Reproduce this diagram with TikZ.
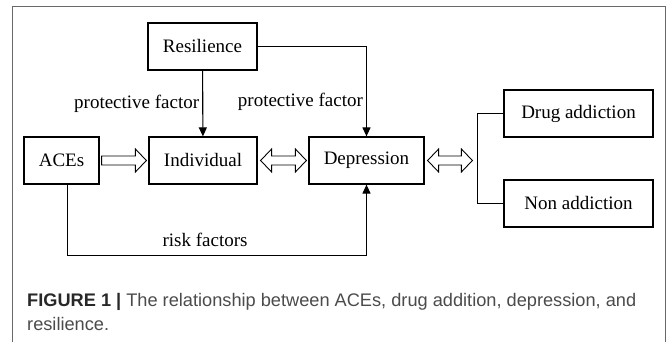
\documentclass[tikz,border=0pt]{standalone}
\usepackage{fontspec}
\setmainfont{Liberation Serif}
\newfontfamily\capfont{Liberation Sans}
\usetikzlibrary{arrows.meta,calc,positioning}
\definecolor{framegray}{RGB}{105,105,105}
\definecolor{captext}{RGB}{75,75,75}
\definecolor{capbold}{RGB}{40,40,40}

% hollow block arrows (horizontal only)
\newcommand{\hollowarrow}[2]{%
  \draw[blockarrow] let \p1=(#1), \p2=(#2) in
    (\x1,\y1-4.5pt) -- (\x2-11pt,\y1-4.5pt) -- (\x2-11pt,\y1-11.5pt) -- (\x2,\y1)
    -- (\x2-11pt,\y1+11.5pt) -- (\x2-11pt,\y1+4.5pt) -- (\x1,\y1+4.5pt) -- cycle;}
\newcommand{\hollowdarrow}[2]{%
  \draw[blockarrow] let \p1=(#1), \p2=(#2) in
    (\x1,\y1) -- (\x1+11pt,\y1+11.5pt) -- (\x1+11pt,\y1+4.5pt) -- (\x2-11pt,\y1+4.5pt)
    -- (\x2-11pt,\y1+11.5pt) -- (\x2,\y1) -- (\x2-11pt,\y1-11.5pt) -- (\x2-11pt,\y1-4.5pt)
    -- (\x1+11pt,\y1-4.5pt) -- (\x1+11pt,\y1-11.5pt) -- cycle;}

\begin{document}
\begin{tikzpicture}[x=1pt, y=-1pt, >={Triangle[length=9pt,width=8pt]},
		box/.style={draw, line width=1.2pt, minimum height=47pt, inner sep=0pt, font=\fontsize{19}{22}\selectfont},
		conn/.style={line width=1.1pt},
		blockarrow/.style={line width=0.9pt, line join=miter},
		lbl/.style={font=\fontsize{19}{22}\selectfont, inner sep=3pt}]
			\useasboundingbox (0,0) rectangle (667,342);
			% frame
			\draw[framegray, line width=0.9pt] (12,342) -- (12,6) -- (665,6) -- (665,342);
			% boxes
			\node[box, minimum width=109pt] (resil) at (202.5,46.5) {Resilience};
			\node[box, minimum width=75pt] (aces) at (61.5,160.5) {ACEs};
			\node[box, minimum width=108pt] (indiv) at (203,160.5) {Individual};
			\node[box, minimum width=115pt] (depr) at (366.5,160.5) {Depression};
			\node[box, minimum width=149pt] (drug) at (578.5,113.5) {Drug addiction};
			\node[box, minimum width=149pt] (nonadd) at (578.5,203.5) {Non addiction};
			% protective and risk factors
			\draw[conn,->] (resil) -- node[lbl,left] {protective factor} (indiv);
			\draw[conn,->] (resil.east) -| node[lbl,pos=0.81,left] {protective factor} (depr.north);
			\draw[conn,->] ([xshift=6pt]aces.south) -- ++(0,71) -| node[lbl,pos=0.23,above=5pt] {risk factors} (depr.south);
			% fork to the outcomes
			\coordinate (fork) at ($(drug.west)+(-26,0)$);
			\draw[conn] (drug.west) -- (fork) |- (nonadd.west);
			% block arrows
			\hollowarrow{$(aces.east)+(2,0)$}{$(indiv.west)+(-2,0)$}
			\hollowdarrow{$(indiv.east)+(3,0)$}{$(depr.west)+(-2,0)$}
			\hollowdarrow{$(depr.east)+(3,0)$}{$(fork |- depr.east)+(-5,0)$}
			% caption (base = last line)
			\node[anchor=base west, align=left, inner sep=0pt, text=captext, font=\capfont\fontsize{18.2}{24}\selectfont] (cap) at (27,330)
				{{\color{capbold}\bfseries FIGURE 1 |} The relationship between ACEs, drug addition, depression, and\\resilience.};
		\end{tikzpicture}
\end{document}
